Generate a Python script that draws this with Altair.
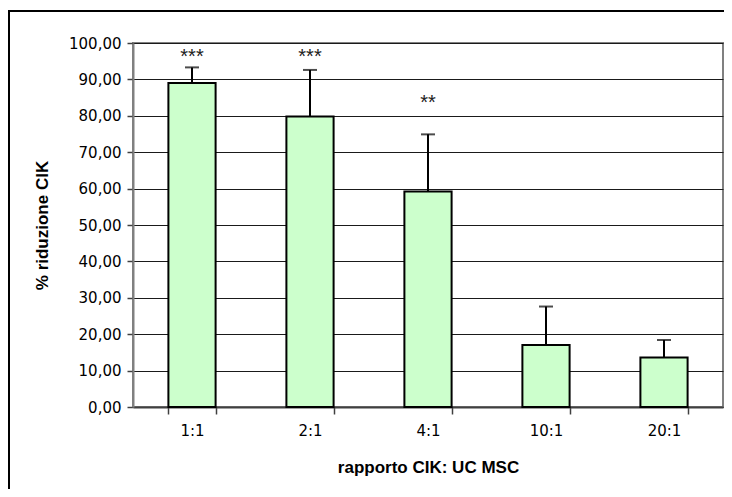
import altair as alt
import pandas as pd

categories = ["1:1", "2:1", "4:1", "10:1", "20:1"]
values = [89.0, 79.8, 59.2, 17.0, 13.6]
err_upper = [4.3, 12.8, 15.7, 10.6, 4.8]
sig_labels = ["***", "***", "**", "", ""]
sig_y = [94.4, 94.4, 82.0, 0, 0]
y_ticks = [0, 10, 20, 30, 40, 50, 60, 70, 80, 90, 100]

df = pd.DataFrame({
    "cat": categories,
    "val": values,
    "top": [v + e for v, e in zip(values, err_upper)],
    "sig": sig_labels,
    "sig_y": sig_y,
})

FONT = "Liberation Sans"
LFONT = "DejaVu Sans"
W, H = 590, 364

xaxis = alt.Axis(
    title="rapporto CIK: UC MSC", labelAngle=0, tickBand="extent",
    tickSize=7, tickColor="#404040", tickWidth=1.5,
    domainColor="#404040", domainWidth=2,
    labelFont=LFONT, labelFontSize=15, labelColor="black", labelPadding=9,
    titleFont=FONT, titleFontSize=17, titleFontWeight="bold", titleColor="black",
    titleX=W / 2, titleY=60, titleBaseline="middle", titleAlign="center",
    grid=False,
)
xscale = alt.Scale(paddingInner=0.6, paddingOuter=0.3)

yscale = alt.Scale(domain=[0, 100], nice=False)
yaxis = alt.Axis(
    title="% riduzione CIK", values=y_ticks, tickCount=20, labelOverlap=False,
    labelExpr="replace(format(datum.value, '.2f'), '.', ',')",
    tickSize=6, tickColor="#404040", tickWidth=1.5,
    domainColor="#808080", domainWidth=2,
    grid=True, gridColor="#1a1a1a", gridWidth=1,
    labelFont=LFONT, labelFontSize=15, labelColor="black", labelPadding=6,
    titleFont=FONT, titleFontSize=17, titleFontWeight="bold", titleColor="black",
    titleX=-91, titleY=H / 2, titleAngle=-90, titleBaseline="middle", titleAlign="center",
)


def X():
    return alt.X("cat:N", sort=categories, scale=xscale, axis=xaxis)


def Y(field):
    return alt.Y(field, scale=yscale, axis=yaxis)


base = alt.Chart(df)

bars = base.mark_bar(fill="#CCFFCC", stroke="black", strokeWidth=2).encode(
    x=X(), y=Y("val:Q"),
)

stems = base.mark_rule(color="black", strokeWidth=2).encode(
    x=X(), y=Y("val:Q"), y2="top:Q",
)

caps = base.mark_tick(color="black", thickness=2, size=14, orient="horizontal").encode(
    x=X(), y=Y("top:Q"),
)

stars = base.transform_filter("datum.sig != ''").mark_text(
    font=FONT, fontSize=20, color="#222222", baseline="alphabetic", align="center"
).encode(
    x=X(), y=Y("sig_y:Q"), text="sig:N",
)

frame = alt.Chart(pd.DataFrame({"a": [0]})).mark_rect(
    fill=None, stroke="black", strokeWidth=2, clip=False
).encode(
    x=alt.value(-124), x2=alt.value(640), y=alt.value(-32), y2=alt.value(480)
)

chart = alt.layer(frame, bars, stems, caps, stars).properties(
    width=W, height=H,
    autosize=alt.AutoSizeParams(type="none"),
    padding={"left": 125, "top": 35, "right": 1, "bottom": 82},
    background="white",
).configure_view(stroke="#808080", strokeWidth=2)

chart.save("out.html", embed_options={"renderer": "svg", "actions": False})
